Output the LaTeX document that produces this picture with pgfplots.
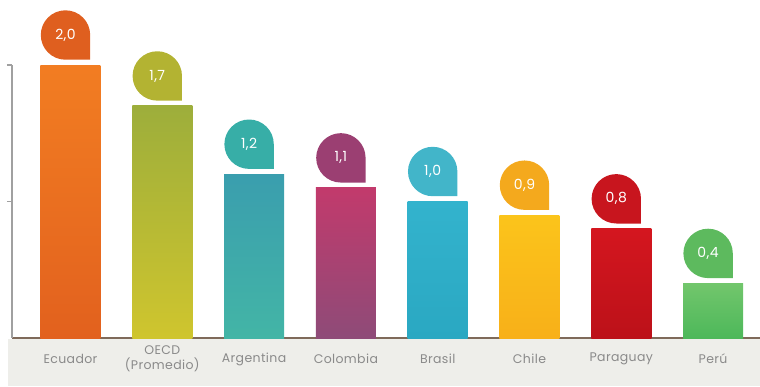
\documentclass[border=0pt]{standalone}
\usepackage{pgfplots}
\pgfplotsset{compat=1.18}
\usepackage{fontspec}
\setmainfont{Poppins}
\newfontfamily\lblfont[LetterSpace=3]{Poppins}

\definecolor{bandgray}{HTML}{EEEEEA}
\definecolor{axisbrown}{HTML}{7F6A5A}
\definecolor{axisgray}{HTML}{A0A0A0}
\definecolor{labelgray}{HTML}{8A8A8A}

\definecolor{ecTop}{HTML}{F27D22}\definecolor{ecBot}{HTML}{E2611E}\definecolor{ecBub}{HTML}{DF5F1F}
\definecolor{oeTop}{HTML}{9DAE3B}\definecolor{oeBot}{HTML}{CFC52E}\definecolor{oeBub}{HTML}{B3B332}
\definecolor{arTop}{HTML}{3A9EAE}\definecolor{arBot}{HTML}{43B5A6}\definecolor{arBub}{HTML}{37AEA7}
\definecolor{coTop}{HTML}{C23A6C}\definecolor{coBot}{HTML}{8E4B78}\definecolor{coBub}{HTML}{9B3F72}
\definecolor{brTop}{HTML}{33B3CD}\definecolor{brBot}{HTML}{2AA8C2}\definecolor{brBub}{HTML}{42B5C9}
\definecolor{chTop}{HTML}{FBC41B}\definecolor{chBot}{HTML}{F8B019}\definecolor{chBub}{HTML}{F4A91D}
\definecolor{paTop}{HTML}{D4161F}\definecolor{paBot}{HTML}{BC1119}\definecolor{paBub}{HTML}{C8151E}
\definecolor{peTop}{HTML}{72C66C}\definecolor{peBot}{HTML}{4DB85A}\definecolor{peBub}{HTML}{5DBA5E}

\makeatletter
\pgfdeclareshape{teardrop}{
  \inheritsavedanchors[from=circle]
  \inheritanchorborder[from=circle]
  \inheritanchor[from=circle]{center}
  \inheritanchor[from=circle]{north}
  \inheritanchor[from=circle]{south}
  \inheritanchor[from=circle]{east}
  \inheritanchor[from=circle]{west}
  \backgroundpath{
    \pgfpathmoveto{\pgfpointadd{\centerpoint}{\pgfqpoint{\radius}{0pt}}}
    \pgfpathlineto{\pgfpointadd{\centerpoint}{\pgfqpoint{\radius}{-\radius}}}
    \pgfpathlineto{\pgfpointadd{\centerpoint}{\pgfqpoint{0pt}{-\radius}}}
    \pgfpatharc{270}{0}{\radius}
    \pgfpathclose
  }
}
\makeatother

\pgfplotsset{
  bubble/.style={nodes near coords style={shape=teardrop, fill=#1, text=white,
      minimum size=49pt, inner sep=0pt, anchor=center, yshift=30pt, xshift=-5pt,
      font=\lblfont\fontsize{14}{15}\selectfont}}
}

\begin{document}
\begin{tikzpicture}
\fill[bandgray] (-4pt,-1pt) rectangle (748pt,-48pt);
\begin{axis}[
  at={(0pt,0pt)}, anchor=south west,
  scale only axis, width=748pt, height=273pt,
  xmin=-0.637, xmax=7.511, ymin=0, ymax=2,
  axis x line=bottom, axis y line=left,
  x axis line style={draw=axisbrown, line width=2pt, -},
  y axis line style={draw=axisgray, line width=1.5pt, -},
  xtick={0,...,7},
  xticklabels={Ecuador, {OECD\\(Promedio)}, Argentina, Colombia, Brasil, Chile, Paraguay, Perú},
  xtick style={draw=none},
  xticklabel style={align=center, text=labelgray, font=\lblfont\fontsize{12.5}{15}\selectfont, anchor=center, yshift=-16pt},
  ytick={1,2}, yticklabels={},
  ytick style={draw=axisgray, line width=1.2pt},
  tick align=outside, major tick length=5pt,
  ybar, bar width=60pt,
  every axis plot/.append style={bar shift=0pt, draw=none},
  nodes near coords={\pgfmathprintnumber[fixed,fixed zerofill,precision=1,use comma,assume math mode=true]{\pgfplotspointmeta}},
  clip=false,
]
\addplot[top color=ecTop, bottom color=ecBot, bubble=ecBub] coordinates {(0,2.0)};
\addplot[top color=oeTop, bottom color=oeBot, bubble=oeBub] coordinates {(1,1.7)};
\addplot[top color=arTop, bottom color=arBot, bubble=arBub] coordinates {(2,1.2)};
\addplot[top color=coTop, bottom color=coBot, bubble=coBub] coordinates {(3,1.1)};
\addplot[top color=brTop, bottom color=brBot, bubble=brBub] coordinates {(4,1.0)};
\addplot[top color=chTop, bottom color=chBot, bubble=chBub] coordinates {(5,0.9)};
\addplot[top color=paTop, bottom color=paBot, bubble=paBub] coordinates {(6,0.8)};
\addplot[top color=peTop, bottom color=peBot, bubble=peBub] coordinates {(7,0.4)};
\end{axis}
\pgfresetboundingbox
\path (-12pt,-48pt) rectangle (748pt,338pt);
\end{tikzpicture}
\end{document}
